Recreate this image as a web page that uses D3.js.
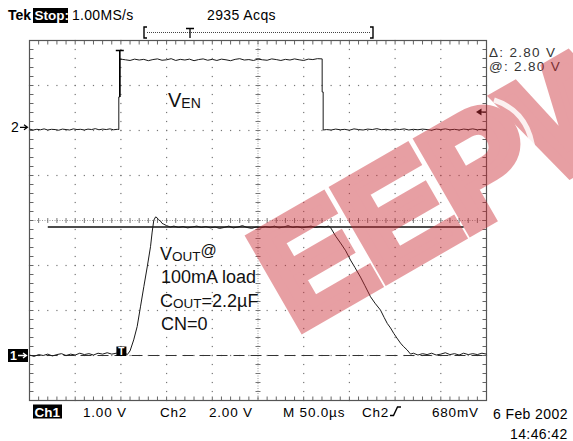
<!DOCTYPE html>
<html><head><meta charset="utf-8">
<script src="https://cdn.jsdelivr.net/npm/d3@7"></script>
<style>
html,body{margin:0;padding:0;background:#fff;}
svg{display:block;}
text{font-family:"Liberation Sans",Arial,sans-serif;}
</style></head>
<body>
<svg id="c" width="573" height="441"></svg>
<script>
// ---------- data ----------
const timeDivs = [0,50,100,150,200,250,300,350,400,450,500];   // µs, 50 µs/div
const voltDivs = [0,1,2,3,4,5,6,7,8];
// Ch2: V_EN (volts, 2 V/div)
const venTime = [0,4,8,12,16,20,24,28,32,36,40,44,48,52,56,60,64,68,72,76,80,84,88,92,96,97.7,97.7,98.8,98.8,101.4,
 105,110,115,120,125,130,135,140,145,150,155,160,165,170,175,180,185,190,195,200,205,210,215,220,225,230,235,240,245,250,255,260,265,270,275,280,285,290,295,300,305,310,315,320.2,320.2,321.3,321.3,
 325,330,335,340,345,350,355,360,365,370,375,380,385,390,395,400,405,410,415,420,425,430,435,440,445,450,455,460,465,470,475,480,485,490,495,500];
const venVolt = [-0.08,-0.12,-0.09,-0.11,-0.07,-0.12,-0.09,-0.1,-0.13,-0.08,-0.1,-0.12,-0.07,-0.1,-0.09,-0.12,-0.08,-0.1,-0.06,-0.11,-0.08,-0.1,-0.07,-0.11,-0.09,-0.1,1.35,1.35,3.02,3.02,
 3.0,2.97,3.03,2.99,3.02,2.96,3.01,3.04,2.98,3.0,3.05,2.97,3.02,2.99,3.03,2.96,3.01,3.04,2.98,3.02,2.97,3.03,3.0,2.96,3.02,3.05,2.99,3.01,2.97,3.03,3.0,2.98,3.04,3.01,2.97,3.02,2.99,3.04,3.0,2.97,3.03,3.01,3.05,3.04,1.57,1.57,-0.12,
 -0.1,-0.12,-0.08,-0.11,-0.09,-0.13,-0.07,-0.1,-0.12,-0.08,-0.1,-0.06,-0.11,-0.09,-0.12,-0.08,-0.1,-0.07,-0.12,-0.09,-0.11,-0.08,-0.1,-0.13,-0.08,-0.1,-0.07,-0.11,-0.09,-0.12,-0.08,-0.1,-0.07,-0.11,-0.09,-0.1];
// Ch1: V_OUT (volts, 1 V/div)
const voutTime = [0,5,10,15,20,25,30,35,40,45,50,55,60,65,70,75,80,85,90,95,100,104,107,
 110,114,117.8,121.4,125.1,128.8,132.4,134.2,136,138,139.7,141,143.3,145,147,150,154,
 158,163,168,173,178,183,188,193,198,203,208,213,218,223,228,233,238,243,248,253,258,263,268,273,278,283,288,293,298,303,308,313,318,323,327,329.3,
 335,341,346,351.2,356,362.1,367,373.1,378,384,388,391.4,395,398.6,402,405.9,409,413.2,416.9,
 420,425,430,435,440,445,450,455,460,465,470,475,480,485,490,495,500];
const voutVolt = [0.01,-0.02,0.02,0.0,0.03,-0.01,0.02,0.04,0.0,0.03,0.01,0.05,0.02,0.04,0.01,0.05,0.03,0.06,0.03,0.05,0.04,0.06,0.02,
 0.1,0.34,0.63,1.06,1.5,1.93,2.37,2.69,2.95,3.02,3.0,2.96,2.93,2.88,2.86,2.83,2.8,
 2.82,2.79,2.81,2.78,2.8,2.82,2.79,2.81,2.78,2.8,2.77,2.79,2.82,2.78,2.8,2.83,2.79,2.77,2.8,2.78,2.81,2.79,2.82,2.78,2.8,2.83,2.79,2.81,2.78,2.8,2.82,2.79,2.81,2.8,2.82,2.79,
 2.6,2.43,2.28,2.08,1.92,1.71,1.52,1.28,1.14,0.99,0.83,0.7,0.6,0.48,0.38,0.27,0.2,0.12,0.03,
 0.05,0.01,0.04,0.02,0.05,0.01,0.03,0.06,0.02,0.04,0.01,0.05,0.02,0.04,0.02,0.05,0.03];
const cursorVolts = [2.80, 0];        // Ch1 horizontal bar cursors
const cursorSpan = [20, 475];        // µs extent of the solid cursor
const trigLevelCh2 = 0.68;           // V
const trigTime = 100;                // µs
const topLabels = ["Tek","Stop:","1.00MS/s","2935 Acqs"];
const bottomLabels = ["Ch1","1.00 V","Ch2","2.00 V","M 50.0µs","Ch2","680mV"];
const dateLabels = ["6 Feb 2002","14:46:42"];
const cursorLabels = ["Δ: 2.80 V","@: 2.80 V"];
const noteLines = ["100mA load","CN=0"];
const watermark = "EEPW";

// ---------- scales ----------
const svg = d3.select("#c");
const gx = d3.scaleLinear().domain([0,10]).range([29.5,486.5]);
const gy = d3.scaleLinear().domain([0,8]).range([40.5,400.5]);
const x = d3.scaleLinear().domain([0,500]).range([29.5,486.5]);
const y1 = d3.scaleLinear().domain([0,2.8]).range([355.5,227]);
const y2 = d3.scaleLinear().domain([0,2]).range([127.3,82.3]);

svg.append("rect").attr("width",573).attr("height",441).attr("fill","#fff");

// ---------- graticule ----------
const g = svg.append("g");
const minorX = d3.range(0,10.001,0.2), minorY = d3.range(0,8.001,0.2);
[1,2,3,4,6,7,8,9].forEach(d=>{
  g.selectAll(null).data(minorY).enter().append("rect")
    .attr("x",gx(d)-0.6).attr("y",v=>gy(v)-0.6).attr("width",1.2).attr("height",1.2).attr("fill","#777");
});
[1,2,3,5,6,7].forEach(d=>{
  g.selectAll(null).data(minorX).enter().append("rect")
    .attr("x",v=>gx(v)-0.6).attr("y",gy(d)-0.6).attr("width",1.2).attr("height",1.2).attr("fill","#777");
});
// center axes
g.append("line").attr("x1",gx(0)).attr("x2",gx(10)).attr("y1",gy(4)).attr("y2",gy(4))
  .attr("stroke","#9a9a9a").attr("stroke-dasharray","1,1.5");
g.append("line").attr("x1",gx(5)).attr("x2",gx(5)).attr("y1",gy(0)).attr("y2",gy(8))
  .attr("stroke","#9a9a9a").attr("stroke-dasharray","1,1.5");
g.selectAll(null).data(minorX).enter().append("line")
  .attr("x1",v=>gx(v)).attr("x2",v=>gx(v)).attr("y1",gy(4)-2.5).attr("y2",gy(4)+2.5).attr("stroke","#777");
g.selectAll(null).data(minorY).enter().append("line")
  .attr("y1",v=>gy(v)).attr("y2",v=>gy(v)).attr("x1",gx(5)-2.5).attr("x2",gx(5)+2.5).attr("stroke","#777");
// border ticks
g.selectAll(null).data(minorX).enter().append("line")
  .attr("x1",v=>gx(v)).attr("x2",v=>gx(v)).attr("y1",gy(0)).attr("y2",gy(0)+4).attr("stroke","#666");
g.selectAll(null).data(minorX).enter().append("line")
  .attr("x1",v=>gx(v)).attr("x2",v=>gx(v)).attr("y1",gy(8)).attr("y2",gy(8)-4).attr("stroke","#666");
g.selectAll(null).data(minorY).enter().append("line")
  .attr("y1",v=>gy(v)).attr("y2",v=>gy(v)).attr("x1",gx(0)).attr("x2",gx(0)+4).attr("stroke","#666");
g.selectAll(null).data(minorY).enter().append("line")
  .attr("y1",v=>gy(v)).attr("y2",v=>gy(v)).attr("x1",gx(10)).attr("x2",gx(10)-4).attr("stroke","#666");
g.append("rect").attr("x",gx(0)).attr("y",gy(0)).attr("width",gx(10)-gx(0)).attr("height",gy(8)-gy(0))
  .attr("fill","none").attr("stroke","#555").attr("stroke-width",1.2);

// ---------- cursors ----------
svg.append("line").attr("x1",x(cursorSpan[0])).attr("x2",x(cursorSpan[1]))
  .attr("y1",y1(cursorVolts[0])).attr("y2",y1(cursorVolts[0])).attr("stroke","#111").attr("stroke-width",1.5);
svg.append("line").attr("x1",gx(0)).attr("x2",gx(10))
  .attr("y1",y1(cursorVolts[1])).attr("y2",y1(cursorVolts[1])).attr("stroke","#333").attr("stroke-width",1.1)
  .attr("stroke-dasharray","11,6");

// ---------- traces ----------
const venData = venTime.map((t,i)=>[t,venVolt[i]]);
const voutData = voutTime.map((t,i)=>[t,voutVolt[i]]);
svg.append("path").datum(venData).attr("fill","none").attr("stroke","#1a1a1a").attr("stroke-width",1)
  .attr("d",d3.line().x(d=>x(d[0])).y(d=>y2(d[1])));
svg.append("path").datum(voutData).attr("fill","none").attr("stroke","#1a1a1a").attr("stroke-width",1)
  .attr("d",d3.line().x(d=>x(d[0])).y(d=>y1(d[1])));

const tx = x(venTime[27]);
svg.append("path").attr("d",`M${tx-4},50.5H${tx+4}M${tx},50.5V97`).attr("stroke","#000").attr("stroke-width",1.6).attr("fill","none");
svg.append("rect").attr("x",x(trigTime)-4.5).attr("y",346.5).attr("width",10).attr("height",9.5).attr("fill","#000");
svg.append("text").attr("x",x(trigTime)+0.5).attr("y",355).attr("text-anchor","middle").attr("font-size",10).attr("font-weight","bold").attr("fill","#fff").text("T");

svg.append("text").attr("x",11).attr("y",y2(0)+5).attr("font-size",14).attr("fill","#000").text("2");
svg.append("path").attr("d",`M20,${y2(0)}H27M24,${y2(0)-2.5}L27.5,${y2(0)}L24,${y2(0)+2.5}`).attr("stroke","#000").attr("stroke-width",1.2).attr("fill","none");
svg.append("rect").attr("x",8).attr("y",y1(0)-6.5).attr("width",20).attr("height",13).attr("fill","#000");
svg.append("text").attr("x",10).attr("y",y1(0)+4.5).attr("font-size",12.5).attr("font-weight","bold").attr("fill","#fff").text("1");
svg.append("path").attr("d",`M18,${y1(0)}H26M23,${y1(0)-2.5}L26.5,${y1(0)}L23,${y1(0)+2.5}`).attr("stroke","#fff").attr("stroke-width",1.3).attr("fill","none");
const tl = y2(trigLevelCh2);
svg.append("path").attr("d",`M476,${tl}L481.5,${tl-3.5}V${tl+3.5}Z`).attr("fill","#000");
svg.append("line").attr("x1",481).attr("x2",486).attr("y1",tl).attr("y2",tl).attr("stroke","#000").attr("stroke-width",1.2);

// ---------- header ----------
svg.append("text").attr("x",8).attr("y",20).attr("font-size",14).attr("font-weight","bold").text(topLabels[0]);
svg.append("rect").attr("x",33).attr("y",8).attr("width",35).attr("height",15).attr("fill","#000");
svg.append("text").attr("x",34.5).attr("y",20).attr("font-size",13.5).attr("font-weight","bold").attr("fill","#fff").text(topLabels[1]);
svg.append("text").attr("x",72).attr("y",20).attr("font-size",14).attr("letter-spacing",0.3).text(topLabels[2]);
svg.append("text").attr("x",207).attr("y",20).attr("font-size",14).attr("letter-spacing",0.4).text(topLabels[3]);
svg.append("path").attr("d","M147,27H144V38H147M370,27H373V38H370").attr("stroke","#000").attr("stroke-width",1.4).attr("fill","none");
svg.append("line").attr("x1",147).attr("x2",370).attr("y1",32.5).attr("y2",32.5).attr("stroke","#444").attr("stroke-dasharray","1,1");
svg.append("path").attr("d","M186,28.5H194M190,28.5V38").attr("stroke","#000").attr("stroke-width",1.3).attr("fill","none");

// ---------- cursor readout ----------
svg.append("text").attr("x",489).attr("y",57).attr("font-family","'Liberation Serif',serif").attr("font-size",13.5).attr("letter-spacing",1.3).attr("fill","#333").text(cursorLabels[0]);
svg.append("text").attr("x",489).attr("y",71).attr("font-family","'Liberation Serif',serif").attr("font-size",13.5).attr("letter-spacing",1.3).attr("fill","#333").text(cursorLabels[1]);

// ---------- footer ----------
svg.append("rect").attr("x",33).attr("y",404.5).attr("width",29).attr("height",14).attr("fill","#000");
svg.append("text").attr("x",34.5).attr("y",416.5).attr("font-size",13.5).attr("font-weight","bold").attr("fill","#fff").text(bottomLabels[0]);
const fx = [83,160,209,283,362,432];
bottomLabels.slice(1).forEach((s,i)=>{
  svg.append("text").attr("x",fx[i]).attr("y",416.5).attr("font-size",13.5).attr("letter-spacing",0.8).text(s);
});
svg.append("path").attr("d","M390,415.5H393.5L397.5,407H401").attr("stroke","#000").attr("stroke-width",1.4).attr("fill","none");
svg.append("text").attr("x",493).attr("y",419).attr("font-size",14).attr("letter-spacing",0.4).text(dateLabels[0]);
svg.append("text").attr("x",510).attr("y",439).attr("font-size",14).attr("letter-spacing",0.4).text(dateLabels[1]);

// ---------- annotations ----------
const a1 = svg.append("text").attr("x",168).attr("y",107).attr("font-size",20).attr("fill","#111");
a1.append("tspan").text("V");
a1.append("tspan").attr("font-size",14).attr("dy",1).text("EN");
const a2 = svg.append("text").attr("x",160).attr("y",260).attr("font-size",18).attr("fill","#111");
a2.append("tspan").text("V");
a2.append("tspan").attr("font-size",13.5).attr("dy",1).text("OUT");
a2.append("tspan").attr("font-size",16).attr("dy",-5).text("@");
svg.append("text").attr("x",161).attr("y",283).attr("font-size",18).attr("fill","#111").text(noteLines[0]);
const a3 = svg.append("text").attr("x",160).attr("y",307).attr("font-size",18).attr("fill","#111");
a3.append("tspan").text("C");
a3.append("tspan").attr("font-size",13.5).attr("dy",1).text("OUT");
a3.append("tspan").attr("dy",-1).text("=2.2µF");
svg.append("text").attr("x",161).attr("y",330).attr("font-size",18).attr("fill","#111").text(noteLines[1]);

// ---------- watermark ----------
const wm = svg.append("g").attr("opacity",0.45).attr("transform","translate(295,332) rotate(-30)");
wm.append("text").attr("x",0).attr("y",0).attr("font-size",150).attr("font-weight","bold")
  .attr("fill","rgb(204,44,53)").attr("stroke","rgb(204,44,53)").attr("stroke-width",11).attr("stroke-linejoin","miter")
  .attr("letter-spacing",-3).text(watermark);
svg.append("path").attr("d","M494,100 Q540,115 533,180").attr("fill","none").attr("stroke","#fff").attr("stroke-opacity",0.85).attr("stroke-width",5);
</script>
</body></html>
